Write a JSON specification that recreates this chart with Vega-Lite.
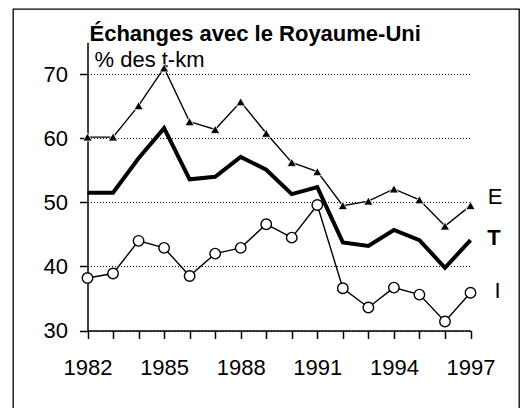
{
  "$schema": "https://vega.github.io/schema/vega-lite/v6.json",
  "width": 506,
  "height": 401,
  "autosize": {"type": "none"},
  "padding": {"left": 13, "top": 9, "right": 2, "bottom": -2},
  "background": "white",
  "title": {"text": "Échanges avec le Royaume-Uni", "anchor": "start", "frame": "group", "orient": "top", "offset": 0, "dx": 76.5, "dy": 53.5, "baseline": "alphabetic", "fontSize": 22, "fontWeight": "bold", "font": "Liberation Sans", "color": "black"},
  "data": {"values": [
    {"year": 1982, "s": "E", "v": 60.2}, {"year": 1983, "s": "E", "v": 60.2}, {"year": 1984, "s": "E", "v": 65.1}, {"year": 1985, "s": "E", "v": 71.0},
    {"year": 1986, "s": "E", "v": 62.6}, {"year": 1987, "s": "E", "v": 61.4}, {"year": 1988, "s": "E", "v": 65.7}, {"year": 1989, "s": "E", "v": 60.8},
    {"year": 1990, "s": "E", "v": 56.25}, {"year": 1991, "s": "E", "v": 54.8}, {"year": 1992, "s": "E", "v": 49.5}, {"year": 1993, "s": "E", "v": 50.2},
    {"year": 1994, "s": "E", "v": 52.1}, {"year": 1995, "s": "E", "v": 50.4}, {"year": 1996, "s": "E", "v": 46.3}, {"year": 1997, "s": "E", "v": 49.5},
    {"year": 1982, "s": "T", "v": 51.5}, {"year": 1983, "s": "T", "v": 51.5}, {"year": 1984, "s": "T", "v": 56.9}, {"year": 1985, "s": "T", "v": 61.6},
    {"year": 1986, "s": "T", "v": 53.6}, {"year": 1987, "s": "T", "v": 54.0}, {"year": 1988, "s": "T", "v": 57.1}, {"year": 1989, "s": "T", "v": 55.1},
    {"year": 1990, "s": "T", "v": 51.3}, {"year": 1991, "s": "T", "v": 52.4}, {"year": 1992, "s": "T", "v": 43.75}, {"year": 1993, "s": "T", "v": 43.2},
    {"year": 1994, "s": "T", "v": 45.7}, {"year": 1995, "s": "T", "v": 44.1}, {"year": 1996, "s": "T", "v": 39.8}, {"year": 1997, "s": "T", "v": 44.1},
    {"year": 1982, "s": "I", "v": 38.2}, {"year": 1983, "s": "I", "v": 38.9}, {"year": 1984, "s": "I", "v": 44.0}, {"year": 1985, "s": "I", "v": 42.9},
    {"year": 1986, "s": "I", "v": 38.5}, {"year": 1987, "s": "I", "v": 42.0}, {"year": 1988, "s": "I", "v": 42.9}, {"year": 1989, "s": "I", "v": 46.6},
    {"year": 1990, "s": "I", "v": 44.5}, {"year": 1991, "s": "I", "v": 49.6}, {"year": 1992, "s": "I", "v": 36.6}, {"year": 1993, "s": "I", "v": 33.6},
    {"year": 1994, "s": "I", "v": 36.7}, {"year": 1995, "s": "I", "v": 35.6}, {"year": 1996, "s": "I", "v": 31.4}, {"year": 1997, "s": "I", "v": 35.9}
  ]},
  "encoding": {
    "x": {"field": "year", "type": "quantitative",
      "scale": {"domain": [1982, 1997], "range": [74.5, 457.5], "nice": false, "zero": false},
      "axis": {"values": [1982,1983,1984,1985,1986,1987,1988,1989,1990,1991,1992,1993,1994,1995,1996,1997],
        "offset": -79.5, "format": "d", "labelExpr": "(datum.value - 1982) % 3 == 0 ? datum.label : ''",
        "tickSize": 8, "labelPadding": 19, "labelFontSize": 22, "grid": false, "domainWidth": 1.5, "tickWidth": 1.5,
        "domainColor": "black", "tickColor": "black", "labelColor": "black", "title": null, "labelOverlap": false, "labelFlush": false}},
    "y": {"field": "v", "type": "quantitative",
      "scale": {"domain": [30, 75], "range": [321.5, 33.3], "nice": false, "zero": false},
      "axis": {"values": [30, 40, 50, 60, 70], "offset": -74.5, "tickSize": 8, "labelPadding": 12, "labelFontSize": 22,
        "grid": true, "gridDash": [1, 2], "gridColor": "black", "gridWidth": 1, "gridOpacity": 1,
        "domainColor": "black", "domainWidth": 1.5, "tickColor": "black", "tickWidth": 1.5, "labelColor": "black",
        "title": "% des t-km", "titleAngle": 0, "titleAlign": "left", "titleBaseline": "alphabetic", "titleX": 6.5, "titleY": 57.5,
        "titleFontSize": 22, "titleFontWeight": "normal", "titleColor": "black"}}
  },
  "layer": [
    {"transform": [{"filter": "datum.s == 'E'"}], "mark": {"type": "line", "color": "black", "strokeWidth": 1.4}},
    {"transform": [{"filter": "datum.s == 'E'"}], "mark": {"type": "point", "shape": "triangle-up", "filled": true, "fill": "black", "stroke": "white", "strokeWidth": 0.8, "size": 85, "opacity": 1}},
    {"transform": [{"filter": "datum.s == 'T'"}], "mark": {"type": "line", "color": "black", "strokeWidth": 4}},
    {"transform": [{"filter": "datum.s == 'I'"}], "mark": {"type": "line", "color": "black", "strokeWidth": 1.4}},
    {"transform": [{"filter": "datum.s == 'I'"}], "mark": {"type": "point", "shape": "circle", "filled": true, "fill": "white", "stroke": "black", "strokeWidth": 1.4, "size": 110, "opacity": 1}},
    {"transform": [{"filter": "datum.s == 'E' && datum.year == 1997"}], "mark": {"type": "text", "dx": 24.5, "dy": -9, "fontSize": 22, "align": "center", "baseline": "middle", "color": "black"}, "encoding": {"text": {"field": "s"}}},
    {"transform": [{"filter": "datum.s == 'T' && datum.year == 1997"}], "mark": {"type": "text", "dx": 23.5, "dy": -2, "fontSize": 22, "fontWeight": "bold", "align": "center", "baseline": "middle", "color": "black"}, "encoding": {"text": {"field": "s"}}},
    {"transform": [{"filter": "datum.s == 'I' && datum.year == 1997"}], "mark": {"type": "text", "dx": 27, "dy": -2, "fontSize": 22, "align": "center", "baseline": "middle", "color": "black"}, "encoding": {"text": {"field": "s"}}}
  ],
  "config": {
    "font": "Liberation Sans",
    "view": {"stroke": "black", "strokeWidth": 1.3},
    "axis": {"labelFont": "Liberation Sans", "titleFont": "Liberation Sans"},
    "text": {"font": "Liberation Sans"}
  }
}
